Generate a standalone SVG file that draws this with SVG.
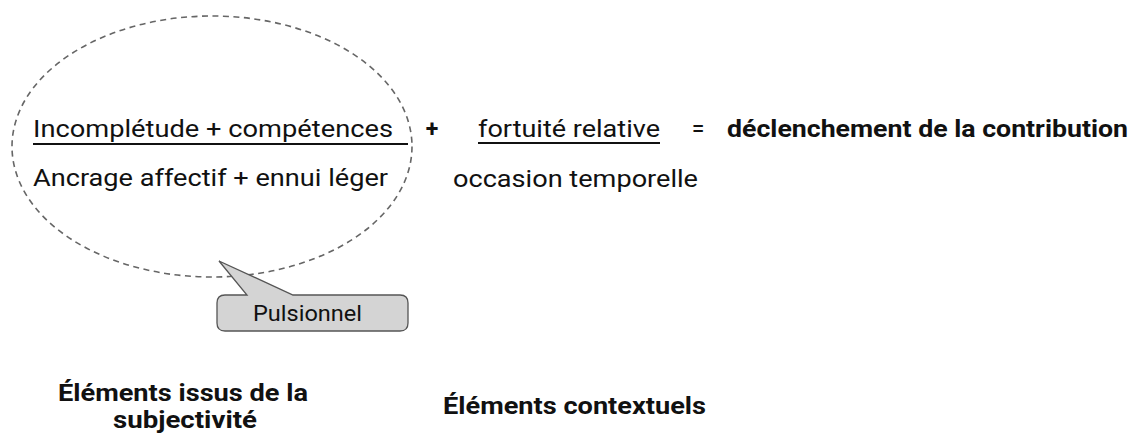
<svg xmlns="http://www.w3.org/2000/svg" width="1143" height="441" viewBox="0 0 1143 441">
<style>
.t{font-family:Roboto,"Liberation Sans",sans-serif;fill:#111;}
.r{font-size:23px;}
.b{font-size:23px;font-weight:bold;}
.l{font-size:23px;font-weight:bold;}
.u{stroke:#111;stroke-width:2;}
</style>
<rect width="1143" height="441" fill="#fff"/>
<g id="subjective-ellipse">
<ellipse cx="212" cy="146.5" rx="200" ry="130.5" fill="none" stroke="#666" stroke-width="1.6" stroke-dasharray="6 4.5"/>
</g>
<g id="subjective-text">
<text class="t r" x="33" y="137" textLength="360" lengthAdjust="spacingAndGlyphs">Incomplétude + compétences</text>
<line class="u" x1="33" y1="144" x2="408" y2="144"/>
<text class="t r" x="33" y="186" textLength="355" lengthAdjust="spacingAndGlyphs">Ancrage affectif + ennui léger</text>
</g>
<g id="plus"><text class="t b" x="432" y="137" text-anchor="middle">+</text></g>
<g id="context-text">
<text class="t r" x="478" y="137" textLength="182" lengthAdjust="spacingAndGlyphs">fortuité relative</text>
<line class="u" x1="478" y1="143" x2="660" y2="143"/>
<text class="t r" x="453" y="187" textLength="245" lengthAdjust="spacingAndGlyphs">occasion temporelle</text>
</g>
<g id="equals"><text class="t r" x="698" y="137" text-anchor="middle">=</text></g>
<g id="result"><text class="t b" x="727" y="137" textLength="401" lengthAdjust="spacingAndGlyphs">déclenchement de la contribution</text></g>
<g id="pulsionnel">
<path d="M225,295 L247,295 L219,261 L293,295 L400,295 Q408,295 408,303 L408,323 Q408,331 400,331 L225,331 Q217,331 217,323 L217,303 Q217,295 225,295 Z" fill="#d4d4d4" stroke="#555" stroke-width="1.3"/>
<text class="t" x="253" y="321" font-size="22" textLength="109" lengthAdjust="spacingAndGlyphs">Pulsionnel</text>
</g>
<g id="label-subjectivite">
<text class="t l" x="58" y="401" textLength="250" lengthAdjust="spacingAndGlyphs">Éléments issus de la</text>
<text class="t l" x="113" y="428" textLength="144" lengthAdjust="spacingAndGlyphs">subjectivité</text>
</g>
<g id="label-contextuels">
<text class="t l" x="443" y="414" textLength="263" lengthAdjust="spacingAndGlyphs">Éléments contextuels</text>
</g>
<g id="connectors"></g>
</svg>
